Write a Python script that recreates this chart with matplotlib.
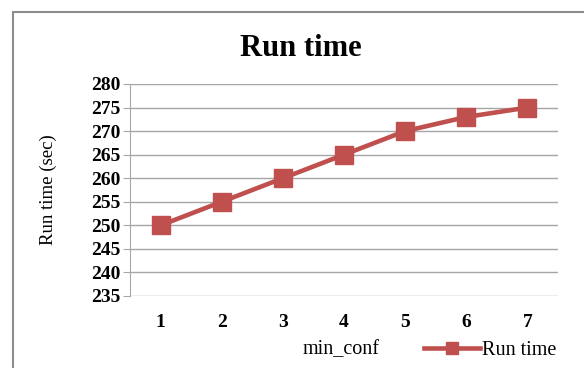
import matplotlib
matplotlib.use("Agg")
import matplotlib.pyplot as plt
from matplotlib.patches import Rectangle
from matplotlib.lines import Line2D

categories = ["1", "2", "3", "4", "5", "6", "7"]
run_time = [250, 255, 260, 265, 270, 273, 275]
y_ticks = [235, 240, 245, 250, 255, 260, 265, 270, 275, 280]

plt.rcParams['font.family'] = ['Liberation Serif', 'DejaVu Serif']

W, H = 584, 368
fig = plt.figure(figsize=(W / 100, H / 100), dpi=100)

# outer chart frame
fig.patches.append(Rectangle((13 / W, -0.1), 1.2, (H - 12) / H + 0.1,
                             transform=fig.transFigure, fill=False,
                             edgecolor='#8c8c8c', linewidth=1.5))

left, right, top, bottom = 130, 558, 84, 296
ax = fig.add_axes([left / W, 1 - bottom / H, (right - left) / W, (bottom - top) / H])

x = list(range(len(categories)))
color = '#c0504d'
ax.plot(x, run_time, color=color, linewidth=3.3, marker='s', markersize=12.5,
        markeredgecolor=color)

ax.set_xlim(-0.5, len(categories) - 0.5)
ax.set_ylim(235, 280)
ax.set_yticks(y_ticks)
ax.set_xticks(x)
ax.set_xticklabels(categories)
ax.yaxis.grid(True, color='#a6a6a6', linewidth=1)
ax.set_axisbelow(True)
for s in ['top', 'right', 'bottom']:
    ax.spines[s].set_visible(False)
ax.spines['left'].set_color('#a6a6a6')
ax.tick_params(axis='y', length=5, color='#a6a6a6', labelsize=14, pad=2)
ax.tick_params(axis='x', length=0, labelsize=14, pad=13)
for lbl in ax.get_xticklabels() + ax.get_yticklabels():
    lbl.set_fontweight('semibold')

fig.text(301 / W, 1 - 48 / H, 'Run time', ha='center', va='center',
         fontsize=22, fontweight='bold')
fig.text(48 / W, 1 - 190 / H, 'Run time (sec)', ha='center', va='center',
         rotation=90, fontsize=13.5)
fig.text(341 / W, 1 - 350 / H, 'min_conf', ha='center', va='center',
         fontsize=14.5)

handle = Line2D([], [], color=color, linewidth=3.3, marker='s', markersize=8,
                markeredgecolor=color)
leg = ax.legend([handle], ['Run time'], loc='center left',
                bbox_to_anchor=(414 / W, 1 - 350 / H),
                bbox_transform=fig.transFigure, frameon=False, fontsize=14.5,
                handlelength=2.8, handletextpad=0.1, borderpad=0)

fig.savefig('out.png', dpi=100)
